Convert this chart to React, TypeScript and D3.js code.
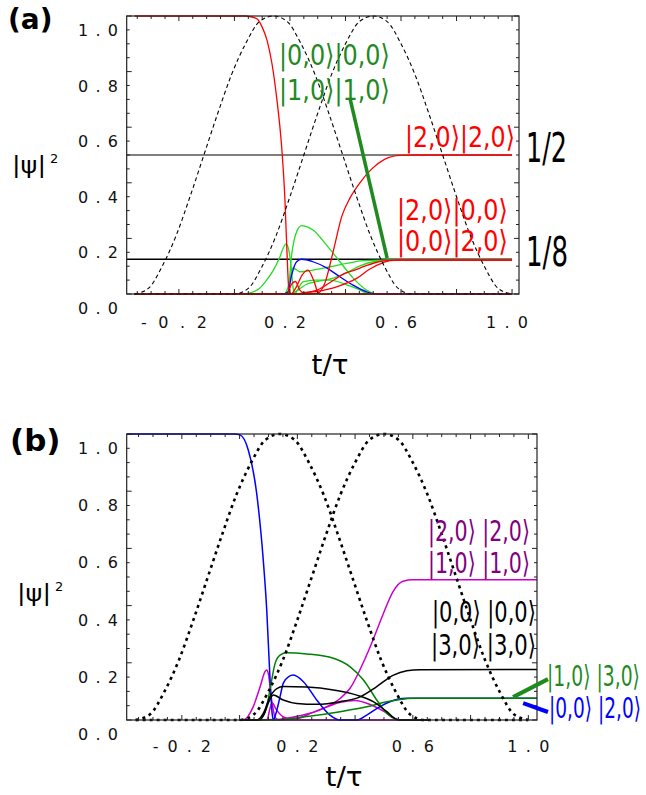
import React, { useEffect, useRef } from 'react';
import * as d3 from 'd3';

type Pt = [number, number];

// tick labels (both panels)
const xTickValues = [-0.2, 0.2, 0.6, 1.0];
const xTickLabels = ['-0.2', '0.2', '0.6', '1.0'];
const yTickValues = [0, 0.2, 0.4, 0.6, 0.8, 1.0];
const yTickLabels = ['0.0', '0.2', '0.4', '0.6', '0.8', '1.0'];

// the two pulses (dashed / dotted)
const pulse1: Pt[] = [[-0.36, 0], [-0.31, 0.02], [-0.26, 0.1], [-0.21, 0.21], [-0.16, 0.35], [-0.11, 0.5], [-0.06, 0.65], [-0.01, 0.79], [0.04, 0.9], [0.09, 0.98], [0.14, 1], [0.19, 0.98], [0.24, 0.9], [0.29, 0.79], [0.34, 0.65], [0.39, 0.5], [0.44, 0.35], [0.49, 0.21], [0.54, 0.1], [0.59, 0.02], [0.64, 0], [1.0, 0]];
const pulse2: Pt[] = [[-0.36, 0], [0, 0], [0.05, 0.02], [0.1, 0.1], [0.15, 0.21], [0.2, 0.35], [0.25, 0.5], [0.3, 0.65], [0.35, 0.79], [0.4, 0.9], [0.45, 0.98], [0.5, 1], [0.55, 0.98], [0.6, 0.9], [0.65, 0.79], [0.7, 0.65], [0.75, 0.5], [0.8, 0.35], [0.85, 0.21], [0.9, 0.1], [0.95, 0.02], [1.0, 0]];

// panel (a)
const aRedStart: Pt[] = [[-0.36, 1], [0.04, 1], [0.056, 0.998], [0.081, 0.99], [0.1, 0.96], [0.117, 0.914], [0.135, 0.83], [0.153, 0.699], [0.171, 0.518], [0.182, 0.338], [0.189, 0.158], [0.196, 0.018], [0.204, 0], [0.22, 0.02], [0.245, 0.07], [0.265, 0.086], [0.285, 0.05], [0.305, 0], [1.0, 0]];
const aRedHalf: Pt[] = [[-0.36, 0], [0.27, 0], [0.301, 0.003], [0.326, 0.04], [0.355, 0.15], [0.387, 0.28], [0.416, 0.345], [0.452, 0.4], [0.495, 0.45], [0.542, 0.485], [0.596, 0.499], [0.65, 0.5], [1.0, 0.5]];
const aRedEighthA: Pt[] = [[-0.36, 0], [0.22, 0], [0.248, 0.003], [0.3, 0.01], [0.368, 0.026], [0.44, 0.056], [0.488, 0.09], [0.536, 0.113], [0.56, 0.12], [0.6, 0.122], [1.0, 0.122]];
const aRedEighthB: Pt[] = [[-0.36, 0], [0.19, 0], [0.205, 0.035], [0.22, 0.045], [0.235, 0.015], [0.25, 0.005], [0.3, 0.015], [0.35, 0.045], [0.4, 0.075], [0.43, 0.085], [0.47, 0.1], [0.52, 0.116], [0.56, 0.121], [0.6, 0.122], [1.0, 0.122]];
const aGreenSmall: Pt[] = [[-0.36, 0], [0.03, 0], [0.06, 0.005], [0.09, 0.02], [0.116, 0.05], [0.14, 0.085], [0.164, 0.134], [0.178, 0.17], [0.186, 0.18], [0.194, 0.165], [0.2, 0.133], [0.206, 0.08], [0.211, 0.025], [0.218, 0], [1.0, 0]];
const aGreenBig: Pt[] = [[-0.36, 0], [0.18, 0], [0.193, 0.01], [0.206, 0.14], [0.224, 0.224], [0.242, 0.246], [0.26, 0.242], [0.283, 0.23], [0.332, 0.176], [0.38, 0.116], [0.427, 0.058], [0.476, 0.014], [0.512, 0], [1.0, 0]];
const aGreenEighthA: Pt[] = [[-0.36, 0], [0.18, 0], [0.195, 0.03], [0.211, 0.094], [0.222, 0.088], [0.236, 0.08], [0.283, 0.086], [0.344, 0.098], [0.404, 0.11], [0.463, 0.12], [0.524, 0.122], [1.0, 0.122]];
const aGreenEighthB: Pt[] = [[-0.36, 0], [0.2, 0], [0.23, 0.015], [0.26, 0.035], [0.3, 0.045], [0.35, 0.055], [0.4, 0.075], [0.45, 0.1], [0.5, 0.116], [0.55, 0.122], [1.0, 0.122]];
const aGreenArc: Pt[] = [[-0.36, 0], [0.215, 0], [0.247, 0.044], [0.29, 0.05], [0.344, 0.05], [0.4, 0.035], [0.44, 0.02], [0.488, 0], [1.0, 0]];
const aBlue: Pt[] = [[-0.36, 0], [0.17, 0], [0.193, 0.007], [0.206, 0.068], [0.224, 0.116], [0.242, 0.125], [0.283, 0.116], [0.332, 0.094], [0.38, 0.062], [0.427, 0.032], [0.476, 0.008], [0.512, 0], [1.0, 0]];
const aRefLevels = [0.5, 0.125];
const aRefLabels = ['1/2', '1/8'];

// panel (b)
const bBlue: Pt[] = [[-0.39, 1], [-0.02, 1], [0.001, 0.997], [0.03, 0.944], [0.059, 0.793], [0.082, 0.559], [0.094, 0.385], [0.105, 0.151], [0.113, 0.02], [0.117, 0], [0.125, 0.02], [0.14, 0.081], [0.151, 0.128], [0.17, 0.152], [0.186, 0.157], [0.221, 0.134], [0.267, 0.07], [0.313, 0.017], [0.348, 0], [0.406, 0], [0.44, 0.017], [0.486, 0.047], [0.544, 0.072], [0.579, 0.076], [1.03, 0.076]];
const bMagentaSmall: Pt[] = [[0, 0], [0.013, 0], [0.047, 0.046], [0.071, 0.116], [0.088, 0.169], [0.094, 0.175], [0.1, 0.16], [0.111, 0.07], [0.123, 0.01], [0.135, 0], [0.655, 0]];
const bMagentaBump: Pt[] = [[0, 0], [0.095, 0], [0.105, 0.04], [0.113, 0.06], [0.125, 0.04], [0.15, 0.012], [0.18, 0.003], [0.2, 0.005], [0.25, 0.025], [0.3, 0.045], [0.35, 0.062], [0.4, 0.068], [0.45, 0.055], [0.5, 0.03], [0.545, 0.003], [0.56, 0], [0.655, 0]];
const bMagentaHalf: Pt[] = [[0, 0], [0.14, 0.003], [0.209, 0.015], [0.289, 0.04], [0.348, 0.075], [0.382, 0.11], [0.428, 0.2], [0.462, 0.28], [0.497, 0.37], [0.532, 0.45], [0.566, 0.485], [0.601, 0.49], [1.03, 0.49]];
const bGreenBig: Pt[] = [[0, 0], [0.06, 0], [0.071, 0.003], [0.094, 0.046], [0.105, 0.105], [0.123, 0.198], [0.14, 0.227], [0.163, 0.235], [0.233, 0.231], [0.325, 0.216], [0.383, 0.186], [0.429, 0.14], [0.475, 0.07], [0.51, 0.023], [0.544, 0.002], [0.56, 0], [0.655, 0]];
const bGreenLow: Pt[] = [[0, 0], [0.117, 0], [0.233, 0.012], [0.348, 0.029], [0.44, 0.046], [0.51, 0.064], [0.556, 0.072], [0.602, 0.076], [1.03, 0.076]];
const bBlackA: Pt[] = [[0, 0], [0.06, 0], [0.082, 0.023], [0.105, 0.081], [0.129, 0.11], [0.151, 0.117], [0.233, 0.115], [0.325, 0.105], [0.406, 0.087], [0.463, 0.064], [0.51, 0.029], [0.544, 0.002], [0.56, 0], [0.655, 0]];
const bBlackB: Pt[] = [[0, 0], [0.07, 0], [0.085, 0.02], [0.099, 0.058], [0.117, 0.087], [0.151, 0.07], [0.198, 0.058], [0.267, 0.055], [0.348, 0.064], [0.417, 0.081], [0.475, 0.117], [0.533, 0.157], [0.579, 0.172], [0.625, 0.176], [1.03, 0.177]];

const FONT = 'DejaVu Sans, Verdana, sans-serif';

// text squeezed/stretched horizontally to a given width
const fitText = (g: any, txt: string, x: number, y: number, w: number, size: number, color: string, anchor = 'start') => {
  const t = g.append('text')
    .attr('font-family', FONT).attr('font-size', size)
    .attr('fill', color)
    .text(txt);
  const nat = (t.node() as SVGTextElement).getComputedTextLength() || w;
  const sx = w / nat;
  const x0 = anchor === 'middle' ? x - w / 2 : x;
  t.attr('transform', `translate(${x0},${y}) scale(${sx},1)`);
  return t;
};

const drawPanel = (svg: any, p: any) => {
  const x = d3.scaleLinear().domain(p.domain).range([p.left, p.right]);
  const y = d3.scaleLinear().domain([0, 1]).range([p.bottom, p.top]);
  const line = d3.line<Pt>()
    .x((d) => x(d[0]))
    .y((d) => y(d[1]))
    .curve(d3.curveMonotoneX);

  const g = svg.append('g');

  // horizontal reference levels
  (p.refs || []).forEach((r: any) => {
    g.append('line')
      .attr('x1', x(p.domain[0])).attr('x2', x(1))
      .attr('y1', y(r.v)).attr('y2', y(r.v))
      .attr('stroke', r.color).attr('stroke-width', 1.3);
  });

  p.curves.forEach((c: any) => {
    g.append('path')
      .datum(c.data)
      .attr('fill', 'none')
      .attr('stroke', c.color)
      .attr('stroke-width', c.w)
      .attr('d', line);
  });

  [pulse1, pulse2].forEach((d) => {
    g.append('path')
      .datum(d)
      .attr('fill', 'none')
      .attr('stroke', 'black')
      .attr('stroke-width', p.pulseWidth)
      .attr('stroke-dasharray', p.pulseDash)
      .attr('d', line);
  });

  // frame + inward ticks
  g.append('rect')
    .attr('x', p.left).attr('y', p.top)
    .attr('width', p.right - p.left).attr('height', p.bottom - p.top)
    .attr('fill', 'none').attr('stroke', '#222').attr('stroke-width', 1.2);

  d3.range(-7, 21).forEach((k) => {
    const len = k % 4 === 0 ? 5 : 3;
    const xv = x(k * 0.05);
    g.append('line').attr('x1', xv).attr('x2', xv).attr('y1', p.bottom).attr('y2', p.bottom - len).attr('stroke', '#222');
    g.append('line').attr('x1', xv).attr('x2', xv).attr('y1', p.top).attr('y2', p.top + len).attr('stroke', '#222');
  });
  d3.range(0, 21).forEach((k) => {
    const len = k % 4 === 0 ? 5 : 3;
    const yv = y(k * 0.05);
    g.append('line').attr('x1', p.left).attr('x2', p.left + len).attr('y1', yv).attr('y2', yv).attr('stroke', '#222');
    g.append('line').attr('x1', p.right).attr('x2', p.right - len).attr('y1', yv).attr('y2', yv).attr('stroke', '#222');
  });

  // tick labels (spread out like the original)
  xTickValues.forEach((v, i) => {
    const txt = xTickLabels[i];
    g.append('text')
      .attr('x', x(v) + p.xLabelDx)
      .attr('y', p.xLabelY)
      .attr('text-anchor', 'middle')
      .attr('font-family', FONT).attr('font-size', 16).attr('fill', '#111')
      .attr('textLength', txt.length > 3 ? p.negWidth : 42)
      .text(txt);
  });
  yTickValues.forEach((v, i) => {
    g.append('text')
      .attr('x', 78)
      .attr('y', y(v) + 20)
      .attr('font-family', FONT).attr('font-size', 16).attr('fill', '#111')
      .attr('textLength', 40)
      .text(yTickLabels[i]);
  });

  // axis titles
  fitText(g, '|ψ|', p.psiX, p.psiY, 34, 23, '#000');
  g.append('text').attr('x', p.psiX + 38).attr('y', p.psiY - 10)
    .attr('font-family', FONT).attr('font-size', 13).text('2');
  fitText(g, 't/τ', p.tX, p.tY, 37, 26, '#000', 'middle');

  g.append('text').attr('x', p.tagX).attr('y', p.tagY)
    .attr('font-family', FONT).attr('font-weight', 'bold')
    .attr('font-size', p.tagSize).text(p.tag);

  // state labels
  p.labels.forEach((l: any) => {
    fitText(g, l.text, l.x, l.y, l.w, l.size || 29, l.color);
  });

  // pointer strokes
  p.pointers.forEach((s: any) => {
    g.append('line')
      .attr('x1', x(s.from[0])).attr('y1', y(s.from[1]))
      .attr('x2', x(s.to[0])).attr('y2', y(s.to[1]))
      .attr('stroke', s.color).attr('stroke-width', s.w);
  });
};

const App = () => {
  const svgRef = useRef<SVGSVGElement | null>(null);

  useEffect(() => {
    const svg = d3.select(svgRef.current);
    svg.selectAll('*').remove();

    const red = '#ff0000';
    const lime = '#22dd22';
    const forest = '#1f8a1f';

    drawPanel(svg, {
      left: 126.7, right: 519, top: 16, bottom: 294, domain: [-0.388, 1.025],
      xLabelDx: -5, xLabelY: 328, negWidth: 66,
      psiX: 12, psiY: 173, tX: 330, tY: 374,
      tag: '(a)', tagX: 8, tagY: 29, tagSize: 28,
      pulseWidth: 1.1, pulseDash: '4,3',
      refs: [{ v: aRefLevels[0], color: '#555' }, { v: aRefLevels[1], color: '#000' }],
      curves: [
        { data: aGreenSmall, color: lime, w: 1.3 },
        { data: aGreenBig, color: lime, w: 1.3 },
        { data: aGreenArc, color: lime, w: 1.3 },
        { data: aGreenEighthA, color: lime, w: 1.3 },
        { data: aGreenEighthB, color: lime, w: 1.3 },
        { data: aBlue, color: '#0000ff', w: 1.3 },
        { data: aRedEighthA, color: red, w: 1.3 },
        { data: aRedEighthB, color: red, w: 1.3 },
        { data: aRedHalf, color: red, w: 1.3 },
        { data: aRedStart, color: red, w: 1.3 },
      ],
      labels: [
        { text: '|0,0⟩|0,0⟩', x: 279, y: 65, w: 111, color: forest },
        { text: '|1,0⟩|1,0⟩', x: 279, y: 100, w: 111, color: forest },
        { text: '|2,0⟩|2,0⟩', x: 405, y: 147, w: 110, color: red },
        { text: '|2,0⟩|0,0⟩', x: 397, y: 220, w: 111, color: red },
        { text: '|0,0⟩|2,0⟩', x: 397, y: 251, w: 111, color: red },
        { text: aRefLabels[0], x: 526, y: 162, w: 41, color: '#000', size: 40 },
        { text: aRefLabels[1], x: 526, y: 266, w: 42, color: '#000', size: 40 },
      ],
      pointers: [{ from: [0.416, 0.705], to: [0.55, 0.129], color: forest, w: 3.5 }],
    });

    drawPanel(svg, {
      left: 126.7, right: 537, top: 434, bottom: 720, domain: [-0.391, 1.03],
      xLabelDx: 0, xLabelY: 752, negWidth: 58,
      psiX: 17, psiY: 601, tX: 344, tY: 786,
      tag: '(b)', tagX: 10, tagY: 451, tagSize: 31,
      pulseWidth: 2.6, pulseDash: '3,4',
      refs: [],
      curves: [
        { data: bMagentaSmall, color: '#cc00cc', w: 1.5 },
        { data: bMagentaBump, color: '#cc00cc', w: 1.5 },
        { data: bMagentaHalf, color: '#cc00cc', w: 1.5 },
        { data: bBlue, color: '#0000ff', w: 1.5 },
        { data: bGreenBig, color: '#008000', w: 1.5 },
        { data: bGreenLow, color: '#008000', w: 1.5 },
        { data: bBlackA, color: '#000', w: 1.5 },
        { data: bBlackB, color: '#000', w: 1.5 },
      ],
      labels: [
        { text: '|2,0⟩ |2,0⟩', x: 428, y: 541, w: 102, color: '#800080' },
        { text: '|1,0⟩ |1,0⟩', x: 428, y: 573, w: 102, color: '#800080' },
        { text: '|0,0⟩ |0,0⟩', x: 432, y: 622, w: 104, color: '#000' },
        { text: '|3,0⟩ |3,0⟩', x: 431, y: 655, w: 105, color: '#000' },
        { text: '|1,0⟩ |3,0⟩', x: 547, y: 686, w: 93, color: forest },
        { text: '|0,0⟩ |2,0⟩', x: 549, y: 718, w: 92, color: '#0000ff' },
      ],
      pointers: [
        { from: [0.947, 0.08], to: [1.068, 0.143], color: forest, w: 4 },
        { from: [0.982, 0.059], to: [1.068, 0.028], color: '#0000ff', w: 4 },
      ],
    });
  }, []);

  return (
    <svg
      ref={svgRef}
      width={646}
      height={795}
      style={{ position: 'absolute', left: 0, top: 0, background: 'white' }}
    />
  );
};

export default App;
